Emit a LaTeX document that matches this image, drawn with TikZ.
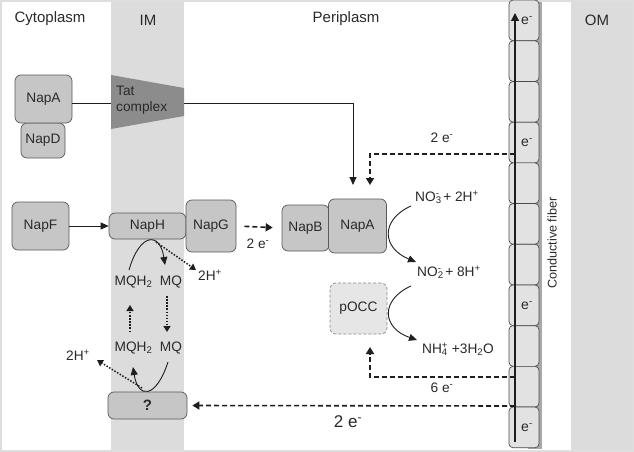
\documentclass[tikz,border=0pt]{standalone}
\usepackage{fontspec}
\setmainfont{Liberation Sans}
\usetikzlibrary{arrows.meta,calc}
\definecolor{band}{HTML}{DCDCDC}
\definecolor{frame}{HTML}{DEDEDE}
\definecolor{boxfill}{HTML}{C6C6C6}
\definecolor{boxline}{HTML}{5A5A5A}
\definecolor{tatc}{HTML}{8C8C8C}
\definecolor{cellfill}{HTML}{E2E2E2}
\definecolor{cellline}{HTML}{4A4A4A}
\definecolor{strip}{HTML}{A8A8A8}
\definecolor{poccfill}{HTML}{E6E6E6}
\definecolor{poccline}{HTML}{8A8A8A}
\definecolor{txt}{HTML}{2A2A2A}
\definecolor{linec}{HTML}{1E1E1E}
\begin{document}
\begin{tikzpicture}[x=1pt,y=-1pt,
  box/.style={draw=boxline, fill=boxfill, rounded corners=6pt, inner sep=0pt, line width=0.7pt,
    font=\fontsize{13.7}{16}\selectfont, text=txt},
  lbl/.style={text=txt, inner sep=0pt, font=\fontsize{13.7}{16}\selectfont},
  hdr/.style={text=txt, inner sep=0pt, font=\fontsize{15}{18}\selectfont},
  cell/.style={draw=cellline, fill=cellfill, rounded corners=4pt, line width=0.7pt,
    minimum width=30pt, minimum height=40.7pt, inner sep=0pt,
    font=\fontsize{14}{16}\selectfont, text=txt},
  solidarr/.style={draw=linec, line width=0.9pt, -{Triangle[length=8pt,width=7pt]}},
  dasharr/.style={draw=linec, line width=1.6pt, dash pattern=on 5pt off 3pt, -{Triangle[length=7pt,width=8pt]}},
  dotarr/.style={draw=linec, line width=1.5pt, dash pattern=on 1.5pt off 1.6pt, -{Triangle[length=6pt,width=7pt]}}
]
\useasboundingbox (0,0) rectangle (634,452);
% bands
\fill[white] (0,0) rectangle (634,452);
\fill[band] (111,0) rectangle (184,452);
\fill[band] (571,0) rectangle (634,452);
\fill[strip] (528,0) rectangle (542,449);
\draw[frame, line width=2pt] (1,1) rectangle (633,451);

% headers
\node[hdr] (cyto) at (50,19) {Cytoplasm};
\node[hdr] (im) at (148,20) {IM};
\node[hdr] (peri) at (346,19) {Periplasm};
\node[hdr] (om) at (597,20) {OM};

% fiber cells
\foreach \i/\t in {1/{e\textsuperscript{-}},2/{},3/{},4/{e\textsuperscript{-}},5/{},6/{},7/{},8/{e\textsuperscript{-}},9/{},10/{},11/{e\textsuperscript{-}}}{
  \node[cell] (c\i) at (524,{20.4+40.7*(\i-1)}) {\hspace*{6pt}\t};
}
\node[lbl, rotate=90, font=\fontsize{12.6}{15}\selectfont] (fiberlbl) at (552,243) {Conductive fiber};

% coordinates
\coordinate (fbot) at (515,442);
\coordinate (ftop) at (515,13);
\coordinate (tatline) at (353,103);
\coordinate (napAtop) at (353,185);
\coordinate (f1) at (515,154);
\coordinate (t1) at (370,185);
\coordinate (f2) at (515,377);
\coordinate (t2) at (370,347);
\coordinate (f3) at (515,406);

% Tat complex path (behind)
\node[box] (napD) at (43,140.5) [minimum width=44pt, minimum height=35pt] {NapD};
\node[box] (napA1) at (43.5,99) [minimum width=57pt, minimum height=48pt] {NapA};
\draw[solidarr] (napA1.east |- tatline) -- (tatline) -- (napAtop);
\fill[tatc] (111,75) -- (184,88) -- (184,116) -- (111,129) -- cycle;
\node[lbl, anchor=west, align=left] (tat) at (116,100) {Tat\\complex};

% fiber arrow
\draw[draw=linec, line width=1.2pt, -{Triangle[length=8pt,width=8pt]}] (fbot) -- (ftop);

% middle row
\node[box] (napF) at (40.5,226) [minimum width=57pt, minimum height=48pt] {NapF};
\node[box] (napH) at (147.5,226) [minimum width=77pt, minimum height=26pt] {NapH};
\node[box] (napG) at (211,226) [minimum width=50pt, minimum height=52pt] {NapG};
\node[box] (napB) at (305.5,228) [minimum width=47pt, minimum height=46pt] {NapB};
\node[box] (napA2) at (357.5,226) [minimum width=58pt, minimum height=54pt] {NapA};
\node[box, fill=poccfill, draw=poccline, dash pattern=on 3pt off 2pt] (pocc) at (358.5,308.5) [minimum width=57pt, minimum height=51pt] {pOCC};
\node[box, font=\fontsize{15}{18}\selectfont\bfseries] (q) at (147.5,405.5) [minimum width=79pt, minimum height=27pt] {?};

\draw[solidarr] (napF.east) -- (napH.west);
\draw[dasharr, shorten <=8pt, shorten >=9pt] (napG.east) -- (napB.west);
\node[lbl] (e2b) at (258,244) {2 e\textsuperscript{-}};

% electron supply from fiber
\draw[dasharr] (f1) -| (t1);
\node[lbl] (e2a) at (442,138) {2 e\textsuperscript{-}};
\draw[dasharr] (f2) -| (t2);
\node[lbl] (e6) at (442,388) {6 e\textsuperscript{-}};
\draw[dasharr, shorten >=5pt] (f3) -- (q.east);
\node[lbl, font=\fontsize{17}{20}\selectfont] (e2c) at (348,422) {2 e\textsuperscript{-}};

% reactions
\node[lbl, anchor=west] (no3) at (415,197) {NO\rlap{\textsubscript{3}}\textsuperscript{-} + 2H\textsuperscript{+}};
\node[lbl, anchor=west] (no2) at (417,272) {NO\rlap{\textsubscript{2}}\textsuperscript{-} + 8H\textsuperscript{+}};
\node[lbl, anchor=west] (nh4) at (422,349) {NH\rlap{\textsubscript{4}}\textsuperscript{+} +3H\textsubscript{2}O};
\coordinate (r1s) at (411,206);
\coordinate (r1e) at (416,262);
\coordinate (r2s) at (411,286);
\coordinate (r2e) at (417,340);
\draw[solidarr] (r1s) .. controls (380,220) and (382,248) .. (r1e);
\draw[solidarr] (r2s) .. controls (380,300) and (382,328) .. (r2e);

% quinone cycle
\node[lbl] (mqh2a) at (133.5,282) {MQH\textsubscript{2}};
\node[lbl] (mqa) at (171,282) {MQ};
\node[lbl] (mqh2b) at (133.5,348) {MQH\textsubscript{2}};
\node[lbl] (mqb) at (171,348) {MQ};
\node[lbl, anchor=west] (hA) at (198,275) {2H\textsuperscript{+}};
\node[lbl] (hB) at (78,355) {2H\textsuperscript{+}};

\coordinate (q1s) at (129,270);
\coordinate (q1e) at (165,265);
\coordinate (q1p) at (156,242);
\coordinate (q1h) at (196,270);
\draw[solidarr] (q1s) .. controls (140,232) and (160,232) .. (q1e);
\draw[dotarr] (q1p) -- (q1h);

\coordinate (vup1) at (130,332);
\coordinate (vup2) at (130,305);
\coordinate (vdn1) at (167,296);
\coordinate (vdn2) at (167,332);
\draw[dotarr] (vup1) -- (vup2);
\draw[dotarr] (vdn1) -- (vdn2);

\coordinate (q2s) at (168,362);
\coordinate (q2e) at (133,367);
\coordinate (q2p) at (142,388);
\coordinate (q2h) at (97,360);
\draw[solidarr] (q2s) .. controls (156,399) and (138,399) .. (q2e);
\draw[dotarr] (q2p) -- (q2h);
\end{tikzpicture}
\end{document}
